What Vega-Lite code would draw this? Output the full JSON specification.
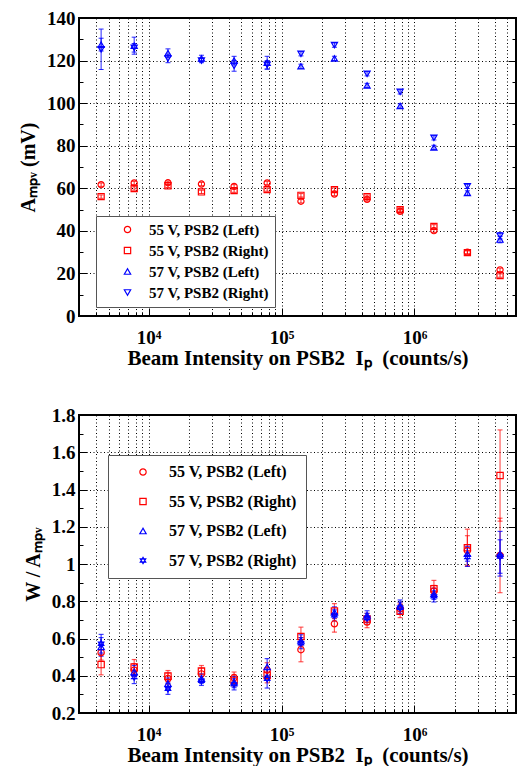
{
  "$schema": "https://vega.github.io/schema/vega-lite/v6.json",
  "padding": {"left": 17, "top": 8, "right": 0, "bottom": 0},
  "config": {
    "view": {"stroke": "#000", "strokeWidth": 2},
    "font": "Liberation Serif",
    "axis": {
      "labelFont": "Liberation Serif", "titleFont": "Liberation Serif",
      "labelFontWeight": "bold", "titleFontWeight": "bold",
      "labelColor": "#000", "titleColor": "#000",
      "labelFontSize": 19, "titleFontSize": 20,
      "domain": false, "tickColor": "#000", "tickWidth": 1,
      "gridColor": "#000", "gridDash": [1, 2.5], "gridWidth": 1
    }
  },
  "datasets": {
    "amp": [
      {"x": 4400, "s": "55 V, PSB2 (Left)", "y": 61.7, "err": 0.8},
      {"x": 7800, "s": "55 V, PSB2 (Left)", "y": 62.5, "err": 0.8},
      {"x": 14000, "s": "55 V, PSB2 (Left)", "y": 62.6, "err": 0.8},
      {"x": 25000, "s": "55 V, PSB2 (Left)", "y": 62.0, "err": 0.8},
      {"x": 44000, "s": "55 V, PSB2 (Left)", "y": 60.9, "err": 0.8},
      {"x": 78000, "s": "55 V, PSB2 (Left)", "y": 62.5, "err": 0.8},
      {"x": 140000, "s": "55 V, PSB2 (Left)", "y": 53.9, "err": 0.8},
      {"x": 250000, "s": "55 V, PSB2 (Left)", "y": 57.3, "err": 0.8},
      {"x": 440000, "s": "55 V, PSB2 (Left)", "y": 54.8, "err": 0.8},
      {"x": 780000, "s": "55 V, PSB2 (Left)", "y": 49.2, "err": 0.8},
      {"x": 1400000, "s": "55 V, PSB2 (Left)", "y": 40.1, "err": 0.8},
      {"x": 2500000, "s": "55 V, PSB2 (Left)", "y": 30.0, "err": 0.8},
      {"x": 4400000, "s": "55 V, PSB2 (Left)", "y": 21.7, "err": 0.8},
      {"x": 4400, "s": "55 V, PSB2 (Right)", "y": 56.1, "err": 0.8},
      {"x": 7800, "s": "55 V, PSB2 (Right)", "y": 59.9, "err": 0.8},
      {"x": 14000, "s": "55 V, PSB2 (Right)", "y": 61.2, "err": 0.8},
      {"x": 25000, "s": "55 V, PSB2 (Right)", "y": 58.3, "err": 0.8},
      {"x": 44000, "s": "55 V, PSB2 (Right)", "y": 58.9, "err": 0.8},
      {"x": 78000, "s": "55 V, PSB2 (Right)", "y": 59.4, "err": 0.8},
      {"x": 140000, "s": "55 V, PSB2 (Right)", "y": 56.7, "err": 0.8},
      {"x": 250000, "s": "55 V, PSB2 (Right)", "y": 59.4, "err": 0.8},
      {"x": 440000, "s": "55 V, PSB2 (Right)", "y": 56.1, "err": 0.8},
      {"x": 780000, "s": "55 V, PSB2 (Right)", "y": 50.0, "err": 0.8},
      {"x": 1400000, "s": "55 V, PSB2 (Right)", "y": 42.1, "err": 0.8},
      {"x": 2500000, "s": "55 V, PSB2 (Right)", "y": 29.8, "err": 0.8},
      {"x": 4400000, "s": "55 V, PSB2 (Right)", "y": 19.0, "err": 0.8},
      {"x": 4400, "s": "57 V, PSB2 (Left)", "y": 127.5, "err": 3},
      {"x": 7800, "s": "57 V, PSB2 (Left)", "y": 127.0, "err": 4},
      {"x": 14000, "s": "57 V, PSB2 (Left)", "y": 123.5, "err": 2},
      {"x": 25000, "s": "57 V, PSB2 (Left)", "y": 121.0, "err": 1.5},
      {"x": 44000, "s": "57 V, PSB2 (Left)", "y": 120.0, "err": 2},
      {"x": 78000, "s": "57 V, PSB2 (Left)", "y": 119.0, "err": 3},
      {"x": 140000, "s": "57 V, PSB2 (Left)", "y": 117.3, "err": 1},
      {"x": 250000, "s": "57 V, PSB2 (Left)", "y": 121.0, "err": 1},
      {"x": 440000, "s": "57 V, PSB2 (Left)", "y": 108.3, "err": 1},
      {"x": 780000, "s": "57 V, PSB2 (Left)", "y": 98.7, "err": 1},
      {"x": 1400000, "s": "57 V, PSB2 (Left)", "y": 79.2, "err": 1},
      {"x": 2500000, "s": "57 V, PSB2 (Left)", "y": 57.8, "err": 1},
      {"x": 4400000, "s": "57 V, PSB2 (Left)", "y": 35.9, "err": 1.5},
      {"x": 4400, "s": "57 V, PSB2 (Right)", "y": 125.3, "err": 9.5},
      {"x": 7800, "s": "57 V, PSB2 (Right)", "y": 126.0, "err": 2},
      {"x": 14000, "s": "57 V, PSB2 (Right)", "y": 121.0, "err": 2},
      {"x": 25000, "s": "57 V, PSB2 (Right)", "y": 120.0, "err": 1},
      {"x": 44000, "s": "57 V, PSB2 (Right)", "y": 117.5, "err": 2.5},
      {"x": 78000, "s": "57 V, PSB2 (Right)", "y": 118.0, "err": 2},
      {"x": 140000, "s": "57 V, PSB2 (Right)", "y": 123.2, "err": 1},
      {"x": 250000, "s": "57 V, PSB2 (Right)", "y": 127.3, "err": 1},
      {"x": 440000, "s": "57 V, PSB2 (Right)", "y": 113.8, "err": 1},
      {"x": 780000, "s": "57 V, PSB2 (Right)", "y": 105.3, "err": 1},
      {"x": 1400000, "s": "57 V, PSB2 (Right)", "y": 83.7, "err": 1},
      {"x": 2500000, "s": "57 V, PSB2 (Right)", "y": 60.9, "err": 1},
      {"x": 4400000, "s": "57 V, PSB2 (Right)", "y": 37.7, "err": 1.5}
    ],
    "ratio": [
      {"x": 4400, "s": "55 V, PSB2 (Left)", "y": 0.524, "err": 0.04},
      {"x": 7800, "s": "55 V, PSB2 (Left)", "y": 0.43, "err": 0.035},
      {"x": 14000, "s": "55 V, PSB2 (Left)", "y": 0.385, "err": 0.03},
      {"x": 25000, "s": "55 V, PSB2 (Left)", "y": 0.41, "err": 0.03},
      {"x": 44000, "s": "55 V, PSB2 (Left)", "y": 0.39, "err": 0.03},
      {"x": 78000, "s": "55 V, PSB2 (Left)", "y": 0.43, "err": 0.04},
      {"x": 140000, "s": "55 V, PSB2 (Left)", "y": 0.54, "err": 0.065},
      {"x": 250000, "s": "55 V, PSB2 (Left)", "y": 0.679, "err": 0.045},
      {"x": 440000, "s": "55 V, PSB2 (Left)", "y": 0.688, "err": 0.03},
      {"x": 780000, "s": "55 V, PSB2 (Left)", "y": 0.76, "err": 0.03},
      {"x": 1400000, "s": "55 V, PSB2 (Left)", "y": 0.855, "err": 0.03},
      {"x": 2500000, "s": "55 V, PSB2 (Left)", "y": 1.072, "err": 0.08},
      {"x": 4400000, "s": "55 V, PSB2 (Left)", "y": 1.046, "err": 0.2},
      {"x": 4400, "s": "55 V, PSB2 (Right)", "y": 0.46, "err": 0.055},
      {"x": 7800, "s": "55 V, PSB2 (Right)", "y": 0.447, "err": 0.04},
      {"x": 14000, "s": "55 V, PSB2 (Right)", "y": 0.398, "err": 0.03},
      {"x": 25000, "s": "55 V, PSB2 (Right)", "y": 0.425, "err": 0.03},
      {"x": 44000, "s": "55 V, PSB2 (Right)", "y": 0.375, "err": 0.03},
      {"x": 78000, "s": "55 V, PSB2 (Right)", "y": 0.402, "err": 0.04},
      {"x": 140000, "s": "55 V, PSB2 (Right)", "y": 0.611, "err": 0.05},
      {"x": 250000, "s": "55 V, PSB2 (Right)", "y": 0.747, "err": 0.04},
      {"x": 440000, "s": "55 V, PSB2 (Right)", "y": 0.705, "err": 0.03},
      {"x": 780000, "s": "55 V, PSB2 (Right)", "y": 0.747, "err": 0.035},
      {"x": 1400000, "s": "55 V, PSB2 (Right)", "y": 0.867, "err": 0.045},
      {"x": 2500000, "s": "55 V, PSB2 (Right)", "y": 1.087, "err": 0.1},
      {"x": 4400000, "s": "55 V, PSB2 (Right)", "y": 1.475, "err": 0.245},
      {"x": 4400, "s": "57 V, PSB2 (Left)", "y": 0.555, "err": 0.05},
      {"x": 7800, "s": "57 V, PSB2 (Left)", "y": 0.42, "err": 0.035},
      {"x": 14000, "s": "57 V, PSB2 (Left)", "y": 0.358, "err": 0.03},
      {"x": 25000, "s": "57 V, PSB2 (Left)", "y": 0.385, "err": 0.025},
      {"x": 44000, "s": "57 V, PSB2 (Left)", "y": 0.366, "err": 0.03},
      {"x": 78000, "s": "57 V, PSB2 (Left)", "y": 0.447, "err": 0.045},
      {"x": 140000, "s": "57 V, PSB2 (Left)", "y": 0.59, "err": 0.03},
      {"x": 250000, "s": "57 V, PSB2 (Left)", "y": 0.74, "err": 0.03},
      {"x": 440000, "s": "57 V, PSB2 (Left)", "y": 0.724, "err": 0.025},
      {"x": 780000, "s": "57 V, PSB2 (Left)", "y": 0.777, "err": 0.03},
      {"x": 1400000, "s": "57 V, PSB2 (Left)", "y": 0.84, "err": 0.03},
      {"x": 2500000, "s": "57 V, PSB2 (Left)", "y": 1.055, "err": 0.04},
      {"x": 4400000, "s": "57 V, PSB2 (Left)", "y": 1.055, "err": 0.12},
      {"x": 4400, "s": "57 V, PSB2 (Right)", "y": 0.572, "err": 0.05},
      {"x": 7800, "s": "57 V, PSB2 (Right)", "y": 0.393, "err": 0.035},
      {"x": 14000, "s": "57 V, PSB2 (Right)", "y": 0.33, "err": 0.03},
      {"x": 25000, "s": "57 V, PSB2 (Right)", "y": 0.373, "err": 0.025},
      {"x": 44000, "s": "57 V, PSB2 (Right)", "y": 0.354, "err": 0.03},
      {"x": 78000, "s": "57 V, PSB2 (Right)", "y": 0.384, "err": 0.05},
      {"x": 140000, "s": "57 V, PSB2 (Right)", "y": 0.575, "err": 0.03},
      {"x": 250000, "s": "57 V, PSB2 (Right)", "y": 0.724, "err": 0.03},
      {"x": 440000, "s": "57 V, PSB2 (Right)", "y": 0.71, "err": 0.025},
      {"x": 780000, "s": "57 V, PSB2 (Right)", "y": 0.765, "err": 0.03},
      {"x": 1400000, "s": "57 V, PSB2 (Right)", "y": 0.826, "err": 0.03},
      {"x": 2500000, "s": "57 V, PSB2 (Right)", "y": 1.037, "err": 0.05},
      {"x": 4400000, "s": "57 V, PSB2 (Right)", "y": 1.04, "err": 0.09}
    ]
  },
  "spacing": 36,
  "resolve": {"scale": {"color": "independent", "shape": "independent"}},
  "vconcat": [
    {
      "width": 437, "height": 298,
      "data": {"name": "amp"},
      "resolve": {"axis": {"y": "independent"}},
      "encoding": {
        "x": {"field": "x", "type": "quantitative", "scale": {"type": "log", "domain": [3000, 5800000], "nice": false},
          "axis": {
            "title": "Beam Intensity on PSB2\u00a0\u00a0Iₚ\u00a0\u00a0(counts/s)",
            "titleFontSize": 21,
            "values": [3000, 4000, 5000, 6000, 7000, 8000, 9000, 10000, 20000, 30000, 40000, 50000, 60000, 70000, 80000, 90000, 100000, 200000, 300000, 400000, 500000, 600000, 700000, 800000, 900000, 1000000, 2000000, 3000000, 4000000, 5000000],
            "labelExpr": "datum.value == 10000 ? '10⁴' : datum.value == 100000 ? '10⁵' : datum.value == 1000000 ? '10⁶' : ''",
            "grid": true,
            "tickSize": {"condition": {"test": "datum.value == 10000 || datum.value == 100000 || datum.value == 1000000", "value": -8}, "value": -4},
            "labelPadding": 20, "titlePadding": -4, "labelFlush": false, "labelOverlap": false
          }}
      },
      "layer": [
        {
          "transform": [{"filter": "indexof(datum.s, '55') == 0"}],
          "mark": {"type": "errorbar", "ticks": {"size": 5}, "thickness": 1, "color": "#ff0000", "opacity": 0.85},
          "encoding": {
            "y": {"field": "y", "type": "quantitative", "scale": {"domain": [0, 140], "nice": false, "zero": false}, "axis": null},
            "yError": {"field": "err"}
          }
        },
        {
          "transform": [{"filter": "indexof(datum.s, '57') == 0"}],
          "mark": {"type": "errorbar", "ticks": {"size": 5}, "thickness": 1, "color": "#0000ff", "opacity": 0.85},
          "encoding": {
            "y": {"field": "y", "type": "quantitative", "scale": {"domain": [0, 140], "nice": false, "zero": false}, "axis": null},
            "yError": {"field": "err"}
          }
        },
        {
          "mark": {"type": "point", "filled": false, "strokeWidth": 1.2, "size": 38, "opacity": 1},
          "encoding": {
            "y": {"field": "y", "type": "quantitative", "scale": {"domain": [0, 140], "nice": false, "zero": false},
              "axis": {
                "title": "Aₘₚᵥ (mV)",
                "values": [0, 10, 20, 30, 40, 50, 60, 70, 80, 90, 100, 110, 120, 130, 140],
                "labelExpr": "datum.value % 20 == 0 ? datum.label : ''",
                "grid": true,
                "gridOpacity": {"condition": {"test": "datum.value % 20 == 0 && datum.value > 0 && datum.value < 140", "value": 1}, "value": 0},
                "tickSize": {"condition": {"test": "datum.value % 20 == 0", "value": -8}, "value": -4},
                "labelPadding": 12, "titlePadding": 8, "labelFlush": false, "labelOverlap": false
              }},
            "color": {"field": "s", "type": "nominal", "scale": {"domain": ["55 V, PSB2 (Left)", "55 V, PSB2 (Right)", "57 V, PSB2 (Left)", "57 V, PSB2 (Right)"], "range": ["#ff0000", "#ff0000", "#0000ff", "#0000ff"]},
              "legend": {"orient": "none", "legendX": 17, "legendY": 198, "title": null, "strokeColor": "#555", "fillColor": "#fff", "padding": 6, "symbolOffset": 18, "labelFont": "Liberation Serif", "labelFontWeight": "bold", "labelFontSize": 15, "labelColor": "#000", "rowPadding": 5, "symbolSize": 40, "symbolStrokeWidth": 1.2, "labelOffset": 14, "labelExpr": "datum.label + '\u00a0\u00a0\u00a0\u00a0'"}},
            "shape": {"field": "s", "type": "nominal", "scale": {"domain": ["55 V, PSB2 (Left)", "55 V, PSB2 (Right)", "57 V, PSB2 (Left)", "57 V, PSB2 (Right)"], "range": ["circle", "square", "triangle-up", "triangle-down"]},
              "legend": {"orient": "none", "legendX": 17, "legendY": 198, "title": null, "strokeColor": "#555", "fillColor": "#fff", "padding": 6, "symbolOffset": 18, "labelFont": "Liberation Serif", "labelFontWeight": "bold", "labelFontSize": 15, "labelColor": "#000", "rowPadding": 5, "symbolSize": 40, "symbolStrokeWidth": 1.2, "labelOffset": 14, "labelExpr": "datum.label + '\u00a0\u00a0\u00a0\u00a0'"}}
          }
        },
        {
          "mark": {"type": "point", "opacity": 0},
          "encoding": {
            "y": {"field": "y", "type": "quantitative", "scale": {"domain": [0, 140], "nice": false, "zero": false},
              "axis": {"orient": "right", "title": null, "labels": false, "grid": false,
                "values": [0, 10, 20, 30, 40, 50, 60, 70, 80, 90, 100, 110, 120, 130, 140],
                "tickSize": {"condition": {"test": "datum.value % 20 == 0", "value": -8}, "value": -4}}}
          }
        }
      ]
    },
    {
      "width": 437, "height": 298,
      "data": {"name": "ratio"},
      "resolve": {"axis": {"y": "independent"}},
      "encoding": {
        "x": {"field": "x", "type": "quantitative", "scale": {"type": "log", "domain": [3000, 5800000], "nice": false},
          "axis": {
            "title": "Beam Intensity on PSB2\u00a0\u00a0Iₚ\u00a0\u00a0(counts/s)",
            "titleFontSize": 21,
            "values": [3000, 4000, 5000, 6000, 7000, 8000, 9000, 10000, 20000, 30000, 40000, 50000, 60000, 70000, 80000, 90000, 100000, 200000, 300000, 400000, 500000, 600000, 700000, 800000, 900000, 1000000, 2000000, 3000000, 4000000, 5000000],
            "labelExpr": "datum.value == 10000 ? '10⁴' : datum.value == 100000 ? '10⁵' : datum.value == 1000000 ? '10⁶' : ''",
            "grid": true,
            "tickSize": {"condition": {"test": "datum.value == 10000 || datum.value == 100000 || datum.value == 1000000", "value": -8}, "value": -4},
            "labelPadding": 20, "titlePadding": -4, "labelFlush": false, "labelOverlap": false
          }}
      },
      "layer": [
        {
          "transform": [{"filter": "indexof(datum.s, '55') == 0"}],
          "mark": {"type": "errorbar", "ticks": {"size": 5}, "thickness": 1.2, "color": "#ff0000", "opacity": 0.65},
          "encoding": {
            "y": {"field": "y", "type": "quantitative", "scale": {"domain": [0.2, 1.8], "nice": false, "zero": false}, "axis": null},
            "yError": {"field": "err"}
          }
        },
        {
          "transform": [{"filter": "indexof(datum.s, '57') == 0"}],
          "mark": {"type": "errorbar", "ticks": {"size": 5}, "thickness": 1.2, "color": "#0000ff", "opacity": 0.75},
          "encoding": {
            "y": {"field": "y", "type": "quantitative", "scale": {"domain": [0.2, 1.8], "nice": false, "zero": false}, "axis": null},
            "yError": {"field": "err"}
          }
        },
        {
          "mark": {"type": "point", "filled": false, "strokeWidth": 1.2, "size": 40, "opacity": 1},
          "encoding": {
            "y": {"field": "y", "type": "quantitative", "scale": {"domain": [0.2, 1.8], "nice": false, "zero": false},
              "axis": {
                "title": "W / Aₘₚᵥ",
                "values": [0.2, 0.3, 0.4, 0.5, 0.6, 0.7, 0.8, 0.9, 1.0, 1.1, 1.2, 1.3, 1.4, 1.5, 1.6, 1.7, 1.8],
                "labelExpr": "round(datum.value * 10) % 2 == 0 ? format(datum.value, '~g') : ''",
                "grid": true,
                "gridOpacity": {"condition": {"test": "round(datum.value * 10) % 2 == 0 && datum.value > 0.25 && datum.value < 1.75", "value": 1}, "value": 0},
                "tickSize": {"condition": {"test": "round(datum.value * 10) % 2 == 0", "value": -8}, "value": -4},
                "labelPadding": 12, "titlePadding": 8, "labelFlush": false, "labelOverlap": false
              }},
            "color": {"field": "s", "type": "nominal", "scale": {"domain": ["55 V, PSB2 (Left)", "55 V, PSB2 (Right)", "57 V, PSB2 (Left)", "57 V, PSB2 (Right)"], "range": ["#ff0000", "#ff0000", "#0000ff", "#0000ff"]},
              "legend": {"orient": "none", "legendX": 29, "legendY": 40, "title": null, "strokeColor": "#555", "fillColor": "#fff", "padding": 9, "symbolOffset": 18, "labelFont": "Liberation Serif", "labelFontWeight": "bold", "labelFontSize": 16, "labelColor": "#000", "rowPadding": 13.5, "symbolSize": 40, "symbolStrokeWidth": 1.2, "labelOffset": 18, "labelExpr": "datum.label + '\u00a0\u00a0\u00a0\u00a0'"}},
            "shape": {"field": "s", "type": "nominal", "scale": {"domain": ["55 V, PSB2 (Left)", "55 V, PSB2 (Right)", "57 V, PSB2 (Left)", "57 V, PSB2 (Right)"], "range": ["circle", "square", "triangle-up", "M0,-1L0.866,0.5L-0.866,0.5Z M0,1L0.866,-0.5L-0.866,-0.5Z"]},
              "legend": {"orient": "none", "legendX": 29, "legendY": 40, "title": null, "strokeColor": "#555", "fillColor": "#fff", "padding": 9, "symbolOffset": 18, "labelFont": "Liberation Serif", "labelFontWeight": "bold", "labelFontSize": 16, "labelColor": "#000", "rowPadding": 13.5, "symbolSize": 40, "symbolStrokeWidth": 1.2, "labelOffset": 18, "labelExpr": "datum.label + '\u00a0\u00a0\u00a0\u00a0'"}}
          }
        },
        {
          "mark": {"type": "point", "opacity": 0},
          "encoding": {
            "y": {"field": "y", "type": "quantitative", "scale": {"domain": [0.2, 1.8], "nice": false, "zero": false},
              "axis": {"orient": "right", "title": null, "labels": false, "grid": false,
                "values": [0.2, 0.3, 0.4, 0.5, 0.6, 0.7, 0.8, 0.9, 1.0, 1.1, 1.2, 1.3, 1.4, 1.5, 1.6, 1.7, 1.8],
                "tickSize": {"condition": {"test": "round(datum.value * 10) % 2 == 0", "value": -8}, "value": -4}}}
          }
        }
      ]
    }
  ]
}
